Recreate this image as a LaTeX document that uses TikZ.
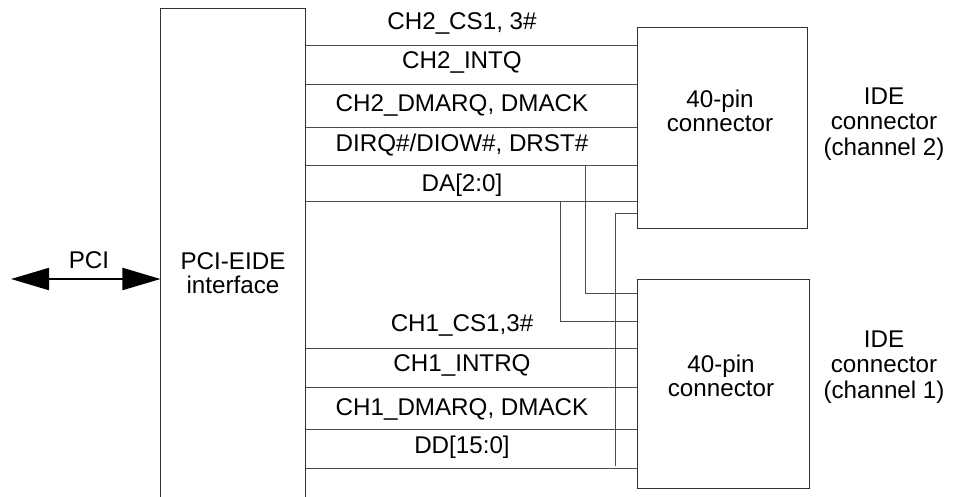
\documentclass[tikz,border=0pt]{standalone}
\usepackage{fontspec}
\setmainfont{Liberation Sans}
\usetikzlibrary{arrows.meta,positioning}

\begin{document}
\begin{tikzpicture}[x=0.025cm, y=-0.025cm, every node/.style={font=\fontsize{17.2}{17}\selectfont}]
\tikzset{block/.style={draw=black!80, line width=0.7pt, inner sep=0pt}}
\tikzset{blocktext/.style={inner sep=0pt, align=center}}
\tikzset{sig/.style={line width=0.7pt, draw=black!70}}
\tikzset{siglabel/.style={inner sep=0pt, anchor=base}}
\tikzset{sidelabel/.style={inner sep=0pt, align=center, font=\fontsize{17.2}{18.2}\selectfont}}
\useasboundingbox (0,0) rectangle (959,496);
\clip (0,0) rectangle (959,496);
% blocks
\node[block, minimum width=3.6cm, minimum height=12.8cm] (iface) at (233,265) {};
\node[blocktext] (ifacetxt) at (233,273) {PCI-EIDE\\interface};
\node[block, minimum width=4.225cm, minimum height=5cm] (conn2) at (722.5,128) {};
\node[blocktext] (conn2txt) at (720,111) {40-pin\\connector};
\node[block, minimum width=4.275cm, minimum height=5.2cm] (conn1) at (723.5,384) {};
\node[blocktext] (conn1txt) at (721,376) {40-pin\\connector};
\node[sidelabel] (side2) at (884,124) {IDE\\connector\\(channel 2)};
\node[sidelabel] (side1) at (884,367) {IDE\\connector\\(channel 1)};
% PCI arrow
\coordinate (pcileft) at (11,279);
\draw[line width=1.4pt, {Triangle[length=0.95cm,width=0.55cm]}-{Triangle[length=0.95cm,width=0.55cm]}] (pcileft) -- (iface.west |- pcileft);
\node[siglabel] (pcilabel) at (89,268) {PCI};
% channel 2 signals
\foreach \y in {45,84,127,165,201}
  \draw[sig] (iface.east |- 0,\y) -- (conn2.west |- 0,\y);
\node[siglabel] (cs2) at (462,29) {CH2\_CS1, 3\#};
\node[siglabel] (intq2) at (462,68) {CH2\_INTQ};
\node[siglabel] (dma2) at (462,111) {CH2\_DMARQ, DMACK};
\node[siglabel] (dirq) at (462,151) {DIRQ\#/DIOW\#, DRST\#};
\node[siglabel] (da) at (462,191) {DA[2:0]};
% channel 1 signals
\foreach \y in {348,387,429,468}
  \draw[sig] (iface.east |- 0,\y) -- (conn1.west |- 0,\y);
\node[siglabel] (cs1) at (462,331) {CH1\_CS1,3\#};
\node[siglabel] (intq1) at (462,371) {CH1\_INTRQ};
\node[siglabel] (dma1) at (462,415) {CH1\_DMARQ, DMACK};
\node[siglabel] (dd) at (462,453) {DD[15:0]};
% shared lines
\draw[sig] (585,165) -- (585,293) -- (conn1.west |- 0,293);
\draw[sig] (560,201) -- (560,321) -- (conn1.west |- 0,321);
\draw[sig] (conn2.west |- 0,213) -- (615,213) -- (615,466);
\end{tikzpicture}
\end{document}
